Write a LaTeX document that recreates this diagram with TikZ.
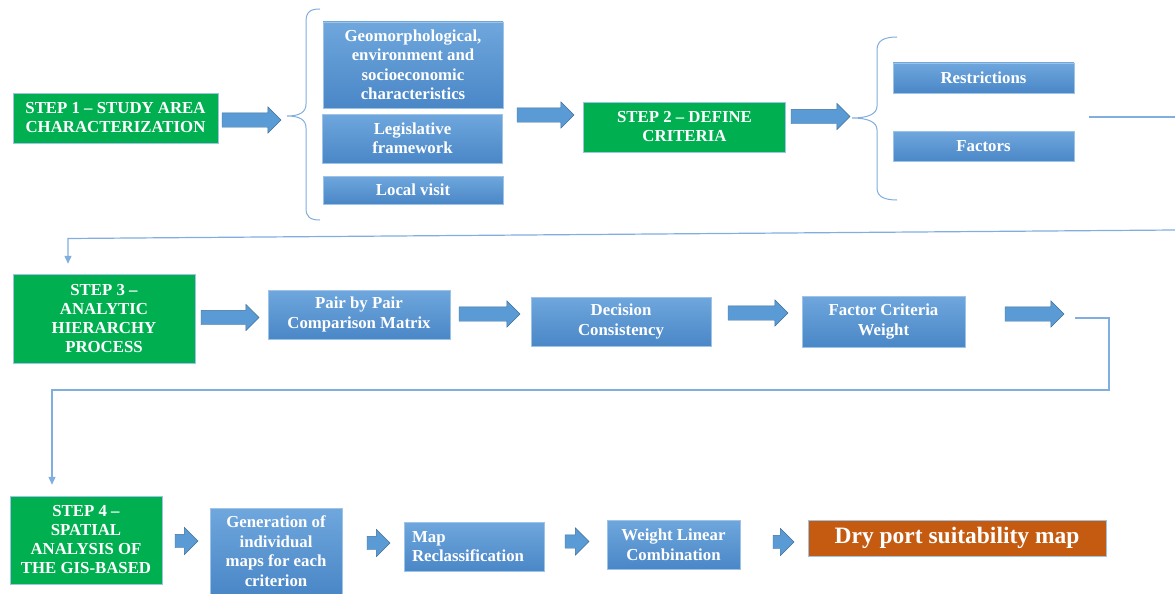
\documentclass[tikz,border=0pt]{standalone}
\usepackage{fontspec}
\setmainfont{Liberation Serif}
\usetikzlibrary{shapes.arrows,arrows.meta}
\definecolor{stepgreen}{HTML}{00B050}
\definecolor{boxtop}{HTML}{6FA7DD}
\definecolor{boxbottom}{HTML}{4A87C7}
\definecolor{boxline}{HTML}{9DC3E6}
\definecolor{arrowfill}{HTML}{5B9BD5}
\definecolor{arrowline}{HTML}{41719C}
\definecolor{linkblue}{HTML}{7FAEDF}
\definecolor{resultorange}{HTML}{C55A11}

\begin{document}
\begin{tikzpicture}[x=1pt,y=-1pt,
stepnode/.style={rectangle, draw=boxline, fill=stepgreen, text=white, font=\bfseries\fontsize{16.8}{19}\selectfont, align=center, inner sep=2pt},
bluenode/.style={rectangle, draw=boxline, top color=boxtop, bottom color=boxbottom, text=white, font=\bfseries\fontsize{16.8}{19.5}\selectfont, align=center, inner sep=2pt},
resultnode/.style={rectangle, draw=boxline, fill=resultorange, text=white, font=\bfseries\fontsize{23.5}{26}\selectfont, inner sep=2pt},
blockarrow/.style={single arrow, draw=arrowline, fill=arrowfill, inner sep=7pt, outer sep=0pt, single arrow head extend=6pt, anchor=tail},
smallarrow/.style={single arrow, draw=arrowline, fill=arrowfill, inner sep=6.5pt, outer sep=0pt, single arrow head extend=7pt, minimum height=23pt, anchor=tail},
link/.style={draw=linkblue, line width=1.2pt},
bracestyle/.style={draw=linkblue, line width=1pt},
]
\useasboundingbox (0,0) rectangle (1175,594);

%Nodes
\node[stepnode, minimum width=205pt, minimum height=50pt] (step_one) at (115.5,118) {STEP 1 – STUDY AREA\\CHARACTERIZATION};
\node[blockarrow, minimum height=59pt] (arrow_one) at (222,120) {};
\node[bluenode, minimum width=180pt, minimum height=86pt] (geomorph) at (413,65) {Geomorphological,\\environment and\\socioeconomic\\characteristics};
\node[bluenode, minimum width=180pt, minimum height=49pt] (legislative) at (412.5,138.5) {Legislative\\framework};
\node[bluenode, minimum width=180pt, minimum height=28pt] (local_visit) at (413,190) {Local visit};
\node[blockarrow, minimum height=57pt] (arrow_two) at (517,115) {};
\node[stepnode, minimum width=202pt, minimum height=50pt] (step_two) at (684.5,127) {STEP 2 – DEFINE\\CRITERIA};
\node[blockarrow, minimum height=59pt] (arrow_three) at (791,116.5) {};
\node[bluenode, minimum width=181pt, minimum height=30pt] (restrictions) at (983.5,78) {Restrictions};
\node[bluenode, minimum width=181pt, minimum height=30pt] (factors) at (983.5,146.5) {Factors};

\node[stepnode, minimum width=182pt, minimum height=89pt] (step_three) at (104,318.5) {STEP 3 –\\ANALYTIC\\HIERARCHY\\PROCESS};
\node[blockarrow, minimum height=58pt] (arrow_four) at (201,317.5) {};
\node[bluenode, minimum width=182pt, minimum height=49pt] (pair) at (359,314.5) {Pair by Pair\\Comparison Matrix};
\node[blockarrow, minimum height=61pt] (arrow_five) at (459,314) {};
\node[bluenode, minimum width=180pt, minimum height=49pt] (decision) at (621,321.5) {Decision\\Consistency};
\node[blockarrow, minimum height=60pt] (arrow_six) at (728,313) {};
\node[bluenode, minimum width=163pt, minimum height=51pt] (weight) at (883.5,321.5) {Factor Criteria\\Weight};
\node[blockarrow, minimum height=59pt] (arrow_seven) at (1005,314) {};

\node[stepnode, minimum width=152pt, minimum height=88pt] (step_four) at (86,540) {STEP 4 –\\SPATIAL\\ANALYSIS OF\\THE GIS-BASED};
\node[smallarrow] (arrow_eight) at (175,541) {};
\node[bluenode, minimum width=132pt, minimum height=86pt] (generation) at (276,551) {Generation of\\individual\\maps for each\\criterion};
\node[smallarrow] (arrow_nine) at (367,543) {};
\node[bluenode, align=left, text width=124pt, inner xsep=8pt, minimum height=49pt] (reclass) at (474,546.5) {Map\\Reclassification};
\node[smallarrow, minimum height=24pt] (arrow_ten) at (565,541.5) {};
\node[bluenode, minimum width=133pt, minimum height=49pt] (linear) at (673.5,544.5) {Weight Linear\\Combination};
\node[smallarrow, minimum height=21pt] (arrow_eleven) at (773,542) {};
\node[resultnode, minimum width=298pt, minimum height=36pt] (suitability) at (957,538) {Dry port suitability map};

%Braces
\draw[bracestyle] (320,9) .. controls (310,9) and (306,12) .. (306,22) -- (306,104) .. controls (306,112) and (300,116) .. (287,116) .. controls (300,116) and (306,120) .. (306,128) -- (306,208) .. controls (306,217) and (310,220) .. (320,220);
\draw[bracestyle] (897,37) .. controls (885,37) and (877,40) .. (877,50) -- (877,106) .. controls (877,114) and (868,118) .. (852,118) .. controls (868,118) and (877,122) .. (877,130) -- (877,188) .. controls (877,197) and (885,200) .. (897,200);

%Lines
\coordinate (top_line_start) at (1089,117);
\coordinate (top_line_end) at (1175,117);
\coordinate (wrap_one_start) at (1175,230);
\coordinate (wrap_one_corner) at (68,238.5);
\coordinate (wrap_two_start) at (1075,318);
\coordinate (wrap_two_turn) at (1109,390);
\coordinate (wrap_two_corner) at (52,390);

\draw[link] (top_line_start) -- (top_line_end);
\draw[link, -{Triangle[width=7pt,length=8pt]}, shorten >=10pt] (wrap_one_start) -- (wrap_one_corner) -- (wrap_one_corner |- step_three.north);
\draw[link, -{Triangle[width=7pt,length=8pt]}, shorten >=11pt] (wrap_two_start) -| (wrap_two_turn) -- (wrap_two_corner) -- (wrap_two_corner |- step_four.north);

\end{tikzpicture}
\end{document}
